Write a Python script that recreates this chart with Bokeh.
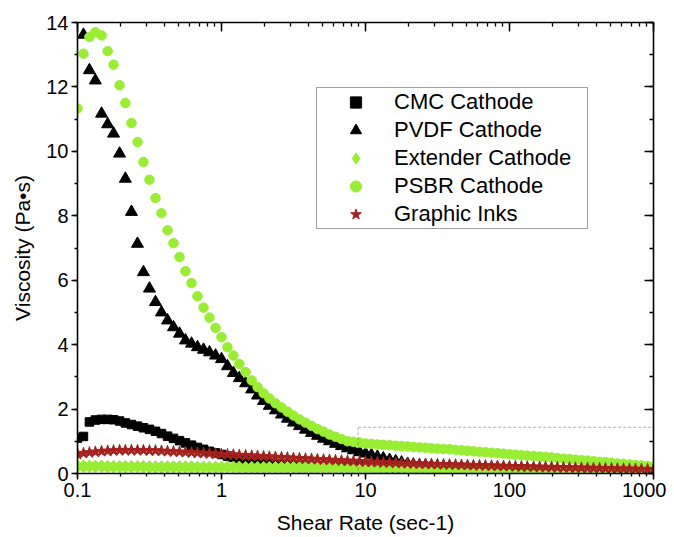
import numpy as np
from bokeh.plotting import figure
from bokeh.models import (LogAxis, LinearAxis, SingleIntervalTicker, LogTicker, Legend,
                          BoxAnnotation, CustomJSTickFormatter, Range1d, LegendItem)
from bokeh.embed import file_html
from bokeh.resources import INLINE

# ---------------- data ----------------
shear_rate = [
    0.1, 0.110, 0.121, 0.133, 0.147, 0.162, 0.178, 0.196, 0.215, 0.237, 0.261, 0.287,
    0.316, 0.348, 0.383, 0.422, 0.464, 0.511, 0.562, 0.619, 0.681, 0.750, 0.825, 0.909,
    1.00, 1.10, 1.21, 1.33, 1.47, 1.62, 1.78, 1.96, 2.15, 2.37, 2.61, 2.87,
    3.16, 3.48, 3.83, 4.22, 4.64, 5.11, 5.62, 6.19, 6.81, 7.50, 8.25, 9.09,
    10.0, 11.0, 12.1, 13.3, 14.7, 16.2, 17.8, 19.6, 21.5, 23.7, 26.1, 28.7,
    31.6, 34.8, 38.3, 42.2, 46.4, 51.1, 56.2, 61.9, 68.1, 75.0, 82.5, 90.9,
    100, 110, 121, 133, 147, 162, 178, 196, 215, 237, 261, 287,
    316, 348, 383, 422, 464, 511, 562, 619, 681, 750, 825, 909, 1000,
]

cmc = [
    1.10, 1.15, 1.60, 1.66, 1.68, 1.68, 1.67, 1.63, 1.57, 1.52, 1.47, 1.42,
    1.37, 1.31, 1.24, 1.16, 1.09, 1.02, 0.95, 0.88, 0.81, 0.75, 0.69, 0.64,
    0.59, 0.54, 0.50, 0.46, 0.42, 0.39, 0.36, 0.34, 0.32, 0.30, 0.29, 0.28,
    0.27, 0.26, 0.25, 0.24, 0.235, 0.23, 0.225, 0.22, 0.215, 0.21, 0.205, 0.20,
    0.195, 0.19, 0.186, 0.182, 0.178, 0.174, 0.17, 0.166, 0.162, 0.158, 0.154, 0.15,
    0.147, 0.144, 0.141, 0.138, 0.135, 0.132, 0.129, 0.126, 0.123, 0.12, 0.118, 0.116,
    0.114, 0.112, 0.11, 0.108, 0.106, 0.104, 0.102, 0.10, 0.098, 0.096, 0.094, 0.092,
    0.09, 0.088, 0.086, 0.084, 0.082, 0.08, 0.078, 0.076, 0.074, 0.072, 0.07, 0.068, 0.066,
]

pvdf = [
    np.nan, 13.62, 12.52, 12.20, 11.17, 10.84, 10.55, 9.93, 9.15, 8.12, 7.13, 6.25,
    5.74, 5.32, 5.00, 4.75, 4.54, 4.34, 4.13, 4.03, 3.92, 3.84, 3.76, 3.66,
    3.55, 3.33, 3.12, 2.96, 2.80, 2.61, 2.42, 2.25, 2.10, 1.96, 1.83, 1.70,
    1.58, 1.47, 1.36, 1.26, 1.17, 1.08, 1.00, 0.92, 0.85, 0.78, 0.72, 0.66,
    0.62, 0.57, 0.52, 0.47, 0.42, 0.38, 0.34, 0.30, 0.27, 0.25, 0.24, 0.23,
    0.22, 0.21, 0.20, 0.195, 0.19, 0.185, 0.18, 0.175, 0.17, 0.165, 0.16, 0.155,
    0.15, 0.145, 0.14, 0.135, 0.13, 0.127, 0.124, 0.121, 0.118, 0.115, 0.112, 0.109,
    0.106, 0.103, 0.10, 0.098, 0.096, 0.094, 0.092, 0.09, 0.088, 0.086, 0.084, 0.082, 0.08,
]

extender = [
    0.22, 0.22, 0.22, 0.22, 0.22, 0.21, 0.21, 0.21, 0.21, 0.21, 0.21, 0.21,
    0.20, 0.20, 0.20, 0.20, 0.20, 0.20, 0.20, 0.20, 0.19, 0.19, 0.19, 0.19,
    0.19, 0.19, 0.19, 0.19, 0.18, 0.18, 0.18, 0.18, 0.18, 0.18, 0.18, 0.18,
    0.18, 0.17, 0.17, 0.17, 0.17, 0.17, 0.17, 0.17, 0.17, 0.17, 0.17, 0.17,
    0.17, 0.16, 0.16, 0.16, 0.16, 0.16, 0.16, 0.15, 0.15, 0.15, 0.15, 0.15,
    0.15, 0.14, 0.14, 0.14, 0.14, 0.14, 0.14, 0.13, 0.13, 0.13, 0.13, 0.13,
    0.13, 0.13, 0.12, 0.12, 0.12, 0.12, 0.12, 0.12, 0.12, 0.11, 0.11, 0.11,
    0.11, 0.11, 0.11, 0.11, 0.11, 0.10, 0.10, 0.10, 0.10, 0.10, 0.10, 0.10, 0.10,
]

psbr = [
    11.33, 13.03, 13.55, 13.70, 13.60, 13.11, 12.69, 12.05, 11.50, 10.88, 10.29, 9.67,
    9.12, 8.55, 8.08, 7.55, 7.15, 6.72, 6.28, 5.91, 5.50, 5.15, 4.84, 4.52,
    4.23, 3.92, 3.66, 3.40, 3.15, 2.89, 2.68, 2.49, 2.33, 2.18, 2.05, 1.92,
    1.80, 1.68, 1.58, 1.48, 1.38, 1.30, 1.21, 1.14, 1.07, 1.00, 0.98, 0.96,
    0.93, 0.92, 0.90, 0.89, 0.88, 0.86, 0.85, 0.84, 0.82, 0.81, 0.80, 0.78,
    0.77, 0.76, 0.75, 0.735, 0.72, 0.705, 0.69, 0.675, 0.66, 0.645, 0.63, 0.615,
    0.60, 0.585, 0.57, 0.555, 0.54, 0.525, 0.51, 0.50, 0.48, 0.46, 0.45, 0.43,
    0.41, 0.40, 0.38, 0.36, 0.35, 0.33, 0.31, 0.30, 0.28, 0.26, 0.25, 0.23, 0.21,
]

inks = [
    0.60, 0.63, 0.65, 0.67, 0.69, 0.70, 0.71, 0.72, 0.72, 0.72, 0.72, 0.72,
    0.71, 0.71, 0.70, 0.69, 0.68, 0.67, 0.66, 0.65, 0.64, 0.63, 0.62, 0.61,
    0.60, 0.59, 0.58, 0.57, 0.56, 0.55, 0.54, 0.53, 0.52, 0.51, 0.50, 0.49,
    0.48, 0.47, 0.46, 0.45, 0.44, 0.43, 0.42, 0.41, 0.40, 0.39, 0.385, 0.375,
    0.365, 0.355, 0.35, 0.34, 0.335, 0.33, 0.32, 0.315, 0.31, 0.30, 0.295, 0.29,
    0.285, 0.28, 0.275, 0.27, 0.265, 0.26, 0.255, 0.25, 0.245, 0.24, 0.235, 0.23,
    0.225, 0.22, 0.215, 0.21, 0.205, 0.20, 0.197, 0.194, 0.19, 0.186, 0.182, 0.178,
    0.174, 0.17, 0.166, 0.162, 0.158, 0.154, 0.15, 0.146, 0.142, 0.138, 0.134, 0.13, 0.125,
]

series_names = ["CMC Cathode", "PVDF Cathode", "Extender Cathode", "PSBR Cathode", "Graphic Inks"]
y_ticks = [0, 2, 4, 6, 8, 10, 12, 14]
x_ticks = [0.1, 1, 10, 100, 1000]
zoom_box = dict(left=8.9, right=1175, bottom=-0.155, top=1.43)

# ---------------- figure ----------------
FONT = "Liberation Sans"
GREEN = "#99EE33"
RED = "#A3221E"

p = figure(width=666, height=536, x_axis_type="log",
           x_range=Range1d(x_ticks[0], x_ticks[-1]), y_range=Range1d(y_ticks[0], y_ticks[-1]),
           output_backend="svg", toolbar_location=None,
           min_border_left=77, min_border_right=13, min_border_top=22, min_border_bottom=63)
p.grid.visible = False
p.outline_line_color = None
p.background_fill_color = "white"
p.border_fill_color = "white"

r_cmc = p.scatter(shear_rate, cmc, marker="square", size=8.5, color="black")
r_pvdf = p.scatter(shear_rate, pvdf, marker="triangle", size=12, color="black")
r_ext = p.scatter(shear_rate, extender, marker="square", angle=np.pi / 4, size=9, color=GREEN)
# legend key for the extender series (legend glyphs ignore the marker angle): its first point as a diamond
r_ext_key = p.scatter(shear_rate[:1], extender[:1], marker="diamond", size=12, color=GREEN)
r_psbr = p.scatter(shear_rate, psbr, marker="circle", size=9.5, color=GREEN)
r_inks = p.scatter(shear_rate, inks, marker="star", size=12, color=RED)

# dashed zoom box
p.add_layout(BoxAnnotation(fill_color=None, fill_alpha=0, line_color="#333333",
                           line_dash="3 2", line_width=1.2, level="overlay", **zoom_box))

# axes
xa = p.xaxis[0]
xa.ticker = LogTicker(num_minor_ticks=10)
xa.formatter = CustomJSTickFormatter(code="return String(Number(tick.toPrecision(6)))")
ya = p.yaxis[0]
ya.ticker = SingleIntervalTicker(interval=2, num_minor_ticks=2)

top = LogAxis(ticker=LogTicker(num_minor_ticks=10), formatter=CustomJSTickFormatter(code="return ''"))
right = LinearAxis(ticker=SingleIntervalTicker(interval=2, num_minor_ticks=2),
                   formatter=CustomJSTickFormatter(code="return ''"))
p.add_layout(top, "above")
p.add_layout(right, "right")

for ax in (xa, ya, top, right):
    ax.axis_line_color = "black"
    ax.axis_line_width = 1.6
    ax.major_tick_line_color = "black"
    ax.minor_tick_line_color = "black"
    ax.major_tick_line_width = 1.5
    ax.minor_tick_line_width = 1.3
    ax.major_label_text_font = FONT
    ax.major_label_text_color = "black"
    ax.major_label_text_font_size = "20px"

for ax in (xa, ya):
    ax.major_tick_out = 6
    ax.major_tick_in = 0
    ax.minor_tick_out = 3
    ax.minor_tick_in = 0
    ax.major_label_standoff = 3
    ax.axis_label_text_font = FONT
    ax.axis_label_text_font_size = "21px"
    ax.axis_label_text_font_style = "normal"
    ax.axis_label_text_color = "black"

for ax in (top, right):
    ax.major_tick_out = 0
    ax.major_tick_in = 9
    ax.minor_tick_out = 0
    ax.minor_tick_in = 4
    ax.major_label_standoff = 0

xa.axis_label = "Shear Rate (sec-1)"
xa.axis_label_standoff = 11
ya.axis_label = "Viscosity (Pa\u2022s)"
ya.axis_label_standoff = 9

# legend
lg = Legend(items=[
    LegendItem(label=series_names[0], renderers=[r_cmc]),
    LegendItem(label=series_names[1], renderers=[r_pvdf]),
    LegendItem(label=series_names[2], renderers=[r_ext_key]),
    LegendItem(label=series_names[3], renderers=[r_psbr]),
    LegendItem(label=series_names[4], renderers=[r_inks]),
])
lg.location = (239, 244)
lg.border_line_color = "#444444"
lg.border_line_width = 1
lg.background_fill_color = "white"
lg.background_fill_alpha = 1
lg.label_text_font = FONT
lg.label_text_font_size = "22px"
lg.label_text_color = "black"
lg.padding = 0
lg.spacing = 0
lg.glyph_width = 77
lg.glyph_height = 28
lg.label_height = 28
lg.label_standoff = 0
lg.label_width = 193
lg.margin = 0
p.add_layout(lg, "center")

open("out.html", "w").write(file_html(p, INLINE))
